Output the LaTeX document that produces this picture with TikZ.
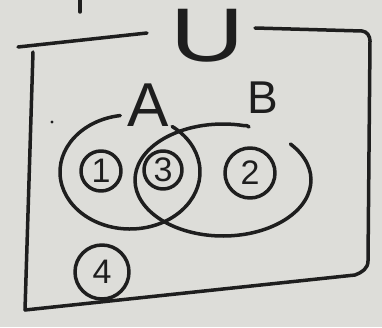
\documentclass[tikz,border=0pt]{standalone}
\usepackage{fontspec}
\setmainfont{Liberation Sans}
\definecolor{paper}{RGB}{221,221,217}
\definecolor{ink}{RGB}{30,30,30}
\tikzset{
  pen/.style={draw=ink, line width=3.5pt, line cap=round, line join=round},
  numcirc/.style={pen, circle, inner sep=0pt, text=ink, font=\fontsize{34}{34}\selectfont},
  letter/.style={text=ink, inner sep=0pt}
}
\begin{document}
\begin{tikzpicture}[x=1pt,y=1pt]
\fill[paper] (0,0) rectangle (382,327);
\useasboundingbox (0,0) rectangle (382,327);
% tick at top
\draw[pen] (80,327) -- (80,315);
% universal set frame
\draw[pen] (18,280) -- (147,294);
\draw[pen] (255,299) -- (362,296) to[out=-5,in=90] (370,286) -- (368,66) to[out=-90,in=20] (355,52) -- (25,17);
\draw[pen] (25,17) -- (33,275);
% labels
\node[letter, font=\fontsize{76}{76}\selectfont, xscale=1.35] (U) at (208,291) {U};
\node[letter, font=\fontsize{62}{62}\selectfont] (A) at (148,222) {A};
\node[letter, font=\fontsize{46}{46}\selectfont] (B) at (263,229) {B};
% set A
\draw[pen] (130,155) ++(98:70 and 57) arc[start angle=98, end angle=413, x radius=70, y radius=57];
% set B
\draw[pen] (223,147) ++(40:88 and 56) arc[start angle=40, end angle=-284, x radius=88, y radius=56] to[out=0,in=120] (249,200);
% dot
\fill[ink] (52,205) circle (1.6);
% regions
\node[numcirc, minimum width=40pt] (n1) at (101,156) {1};
\node[numcirc, minimum width=38pt] (n3) at (163,157) {3};
\node[numcirc, minimum width=50pt] (n2) at (250,154) {2};
\node[numcirc, minimum width=54pt] (n4) at (102,55) {4};
\end{tikzpicture}
\end{document}
